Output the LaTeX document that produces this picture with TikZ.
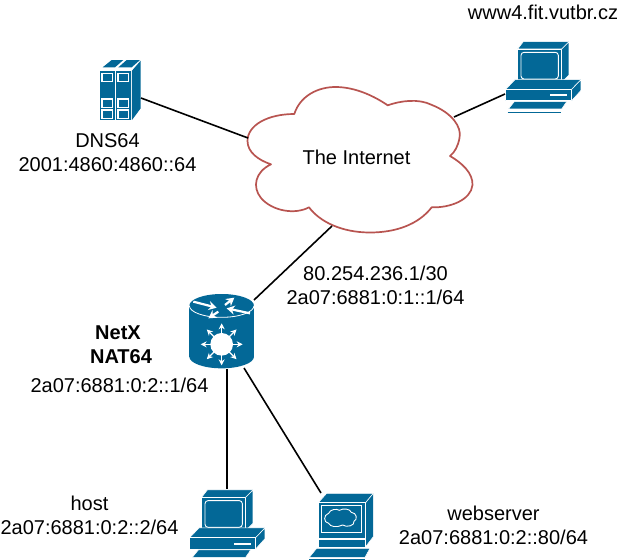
\documentclass[tikz,border=0pt]{standalone}
\usepackage{fontspec}
\setmainfont{Liberation Sans}
\usetikzlibrary{arrows.meta}
\definecolor{cisco}{HTML}{036897}
\definecolor{cloudred}{HTML}{B85450}
\tikzset{
  lbl/.style={font=\fontsize{20}{24}\selectfont,inner sep=0pt,align=center,text=black},
  link/.style={draw=black,line width=1.6pt},
  iconfill/.style={fill=cisco,draw=white,line width=0.55pt,line join=round},
  whiteline/.style={draw=white,line width=0.9pt},
  whitearrow/.style={draw=white,line width=2.2pt,-{Stealth[length=8pt,width=9pt]}},
  pics/pcbox/.style={code={
    \path[iconfill] (68,42)--(85,20)--(222,20)--(200,42)--cycle;
    \path[iconfill] (200,42)--(222,20)--(222,120)--(200,142)--cycle;
    \path[iconfill] (68,42) rectangle (200,142);
    \path[whiteline,rounded corners=3pt] (78,52) rectangle (190,132);
    \path[iconfill] (32,163)--(60,134)--(258,134)--(230,163)--cycle;
    \path[iconfill] (230,163)--(258,134)--(258,166)--(230,197)--cycle;
    \path[iconfill] (30,163) rectangle (230,197);
    \fill[white] (165,178) rectangle (215,184);
    \path[iconfill] (40,222)--(58,200)--(215,200)--(200,222)--cycle;
    \draw[white,line width=0.9pt] (38,228)--(200,228);
    \draw[cisco,line width=0.7pt] (38,231)--(198,231);
  }},
  pics/webbox/.style={code={
    \path[iconfill] (415,68)--(440,40)--(580,40)--(557,68)--cycle;
    \path[iconfill] (557,68)--(580,40)--(580,170)--(557,200)--cycle;
    \path[iconfill] (415,68) rectangle (557,175);
    \path[whiteline] (425,75) rectangle (545,158);
    \path[whiteline] (446,100) .. controls (450,88) and (470,85) .. (478,91)
      .. controls (490,84) and (510,86) .. (514,97)
      .. controls (530,98) and (534,118) .. (522,124)
      .. controls (526,136) and (500,144) .. (488,135)
      .. controls (470,144) and (450,140) .. (446,130)
      .. controls (430,128) and (430,104) .. (446,100) -- cycle;
    \path[iconfill] (415,179) rectangle (557,201);
    \path[iconfill] (388,232)--(410,205)--(570,205)--(555,232)--cycle;
    \draw[white,line width=0.9pt] (388,234)--(555,234);
    \draw[cisco,line width=0.7pt] (388,237)--(555,237);
  }},
  pics/routerbox/.style={code={
    \fill[cisco] (28,62) rectangle (222,215);
    \fill[cisco] (125,215) ellipse[x radius=97,y radius=35];
    \fill[cisco] (125,62) ellipse[x radius=97,y radius=35];
    \draw[white,line width=0.8pt] (28,62) arc[start angle=180,end angle=0,x radius=97,y radius=35];
    \draw[whitearrow] (40,50)--(110,68);
    \draw[whitearrow] (135,60)--(163,38);
    \draw[whitearrow] (210,85)--(140,70);
    \draw[whitearrow] (115,80)--(85,100);
    \fill[white] (125,178) circle[radius=34];
    \foreach \a in {0,45,...,315}{
      \draw[draw=white,line width=1.2pt,-{Stealth[length=6pt,width=6pt]}] (125,178)++(\a:30)--++(\a:33);
    }
  }},
  pics/serverbox/.style={code={
    \fill[cisco] (38,52)--(65,30)--(100,30)--(75,52)--cycle;
    \fill[cisco] (85,52)--(110,30)--(150,30)--(125,52)--cycle;
    \fill[cisco] (126,62)--(152,32)--(152,175)--(126,210)--cycle;
    \foreach \cx in {30,78}{
      \fill[cisco] (\cx,62) rectangle ++(44,148);
      \foreach \wy in {70,147,180}{
        \draw[white,line width=1.2pt,fill=cisco] (\cx+6,\wy) rectangle ++(32,25);
      }
    }
  }}
}
\begin{document}
\begin{tikzpicture}[x=1pt,y=-1pt]
\useasboundingbox (0,0) rectangle (619,560);
% cloud
\draw[draw=cloudred,fill=white,line width=1.7pt,line join=round] (294.3,114)
  .. controls (300,96) and (318,86.5) .. (337,87)
  .. controls (356,87.5) and (374,96) .. (387.7,105.3)
  .. controls (400,101) and (418,98) .. (432,105)
  .. controls (452,113) and (462,127) .. (459.5,138)
  .. controls (458,146) and (455,152) .. (450,156)
  .. controls (462,163) and (473,173) .. (472.5,185)
  .. controls (471,200) and (450,208) .. (431.7,207.3)
  .. controls (418,225) and (395,232.5) .. (370,232.5)
  .. controls (342,232.5) and (320,222) .. (309,207.3)
  .. controls (295,215) and (272,211) .. (261,198)
  .. controls (252,187) and (255,172) .. (271,164.3)
  .. controls (258,160) and (247.5,152) .. (247.5,141)
  .. controls (247.5,125) and (268,114) .. (294.3,114) -- cycle;
\node[lbl] (inet) at (356.5,157) {The Internet};
% icons
\pic (dns) at (90,50) [scale=0.3333] {serverbox};
\pic (www) at (495,35) [scale=0.3333] {pcbox};
\pic (router) at (180,285) [scale=0.3333] {routerbox};
\pic (hostpc) at (179,483.3) [scale=0.3333] {pcbox};
\pic (web) at (180,480) [scale=0.3333] {webbox};
% connector ends
\coordinate (dnsport) at (141,98);
\coordinate (cloudw) at (248,138);
\coordinate (wwwport) at (505,94);
\coordinate (cloude) at (454,117);
\coordinate (routern) at (254,300);
\coordinate (clouds) at (332,226);
\coordinate (routers) at (227,369);
\coordinate (hostport) at (227,489);
\coordinate (routerse) at (244,368);
\coordinate (webport) at (321,493);
\draw[link] (dnsport)--(cloudw);
\draw[link] (wwwport)--(cloude);
\draw[link] (routern)--(clouds);
\draw[link] (routers)--(hostport);
\draw[link] (routerse)--(webport);
% labels
\node[lbl] (t1) at (543,12) {www4.fit.vutbr.cz};
\node[lbl] (t2) at (107.5,153) {DNS64\\2001:4860:4860::64};
\node[lbl] (t3) at (375.5,285) {80.254.236.1/30\\2a07:6881:0:1::1/64};
\node[lbl,font=\fontsize{20}{24}\selectfont\bfseries] (t4) at (118,333) {NetX};
\node[lbl,font=\fontsize{20}{24}\selectfont\bfseries] (t5) at (121,357) {NAT64};
\node[lbl] (t6) at (119.5,385) {2a07:6881:0:2::1/64};
\node[lbl] (t7) at (89.5,515) {host\\2a07:6881:0:2::2/64};
\node[lbl] (t8) at (493.5,525) {webserver\\2a07:6881:0:2::80/64};
\end{tikzpicture}
\end{document}
